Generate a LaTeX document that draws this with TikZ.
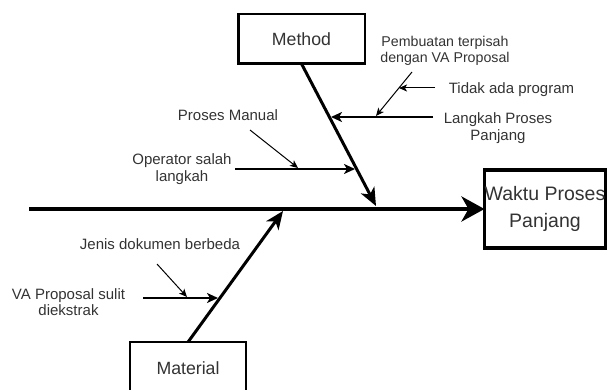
\documentclass[tikz,border=0pt]{standalone}
\usepackage{fontspec}
\setmainfont{Liberation Sans}
\usetikzlibrary{arrows.meta}

\begin{document}
\begin{tikzpicture}[x=1pt,y=-1pt,
  box/.style={draw, fill=white, outer sep=0pt, inner sep=0pt, text=black!80},
  lbl/.style={anchor=base, align=center, inner sep=0pt, text=black!80,
    font=\fontsize{15}{17}\selectfont},
  spine/.style={line width=4.5pt, -{Stealth[length=23pt,width=25pt,inset=7pt]}},
  bone/.style={line width=3pt, -{Stealth[length=18pt,width=15pt,inset=5pt]}},
  sub/.style={line width=2pt, -{Stealth[length=11pt,width=10pt,inset=3pt]}},
  twig/.style={line width=1pt, -{Stealth[length=8pt,width=7pt,inset=2pt]}},
]
\useasboundingbox (0,0) rectangle (608,390);

% category and effect boxes
\node[box, line width=2.5pt, minimum width=126.5pt, minimum height=49.5pt,
  font=\fontsize{17.7}{21}\selectfont] (method) at (301.5,39) {Method};
\node[box, line width=2pt, minimum width=116pt, minimum height=53pt,
  font=\fontsize{17.7}{21}\selectfont] (material) at (188,368.6) {Material};
\node[box, line width=3.3pt, minimum width=121pt, minimum height=78pt, align=center,
  font=\fontsize{19.5}{27}\selectfont] (effect) at (545,209) {Waktu Proses\\Panjang};

% main spine
\coordinate (tail) at (29,209);
\draw[spine] (tail) -- (effect.west);

% category bones
\coordinate (mjoin) at (376,206);
\coordinate (tjoin) at (283,211);
\draw[bone] (method.south) -- (mjoin);
\draw[bone] (material.north) -- (tjoin);

% cause arrows
\coordinate (c1s) at (433,117); \coordinate (c1e) at (331,117);
\coordinate (c2s) at (235,169); \coordinate (c2e) at (355,169);
\coordinate (c3s) at (143,298); \coordinate (c3e) at (218,298);
\draw[sub] (c1s) -- (c1e);
\draw[sub] (c2s) -- (c2e);
\draw[sub] (c3s) -- (c3e);

% sub-cause arrows
\coordinate (d1s) at (412,72);  \coordinate (d1e) at (376,116);
\coordinate (d2s) at (435,88);  \coordinate (d2e) at (399,88);
\coordinate (d3s) at (250,130); \coordinate (d3e) at (298,168);
\coordinate (d4s) at (157,264); \coordinate (d4e) at (187,297);
\draw[twig] (d1s) -- (d1e);
\draw[twig] (d2s) -- (d2e);
\draw[twig] (d3s) -- (d3e);
\draw[twig] (d4s) -- (d4e);

% labels (base anchor sits on the last line's baseline)
\node[lbl, font=\fontsize{14.2}{16}\selectfont] (l1) at (445,63) {Pembuatan terpisah\\dengan VA Proposal};
\node[lbl] (l2) at (511.5,94) {Tidak ada program};
\node[lbl] (l3) at (498,141) {Langkah Proses\\Panjang};
\node[lbl] (l4) at (228,121) {Proses Manual};
\node[lbl] (l5) at (182,182) {Operator salah\\langkah};
\node[lbl] (l6) at (160,250) {Jenis dokumen berbeda};
\node[lbl] (l7) at (68.5,316) {VA Proposal sulit\\diekstrak};
\end{tikzpicture}
\end{document}
